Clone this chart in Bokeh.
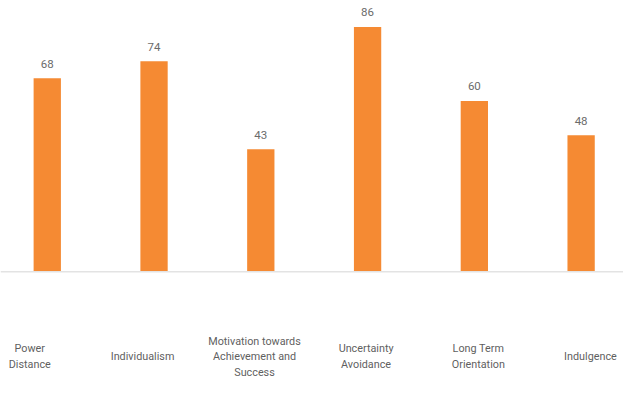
from bokeh.plotting import figure
from bokeh.models import ColumnDataSource, Range1d, Span
from bokeh.core.properties import value
from bokeh.embed import file_html
from bokeh.resources import INLINE

categories = ["Power\nDistance", "Individualism", "Motivation towards\nAchievement and\nSuccess",
              "Uncertainty\nAvoidance", "Long Term\nOrientation", "Indulgence"]
scores = [68, 74, 43, 86, 60, 48]
label_shift = [-17.5, -11.5, -6.3, -1.5, 4, 9.3]

xs = list(range(len(categories)))
src = ColumnDataSource(dict(x=xs, top=scores, cat=categories,
                            lbl=[str(s) for s in scores], shift=label_shift))

p = figure(width=623, height=384, output_backend="svg", toolbar_location=None,
           x_range=Range1d(-0.438, 5.397), y_range=Range1d(-39.6, 95.3),
           min_border=0, outline_line_color=None)
p.axis.visible = False
p.grid.visible = False
p.background_fill_color = "white"
p.border_fill_color = "white"

p.add_layout(Span(location=0, dimension="width", line_color="#e3e3e3", line_width=1.5))

p.vbar(x="x", top="top", bottom=0, width=0.2557, source=src,
       fill_color="#F58A33", line_color=None)

p.text(x="x", y="top", text="lbl", source=src, y_offset=-14.5,
       text_align="center", text_baseline="middle",
       text_font=value("Roboto"), text_font_size="11.5px", text_color="#6b6b6b")

p.text(x="x", y=0, text="cat", source=src, y_offset=85, x_offset="shift",
       text_align="center", text_baseline="middle", text_line_height=1.2,
       text_font=value("Roboto"), text_font_size="10.8px", text_color="#5f5f5f")

open("out.html", "w").write(file_html(p, INLINE))
